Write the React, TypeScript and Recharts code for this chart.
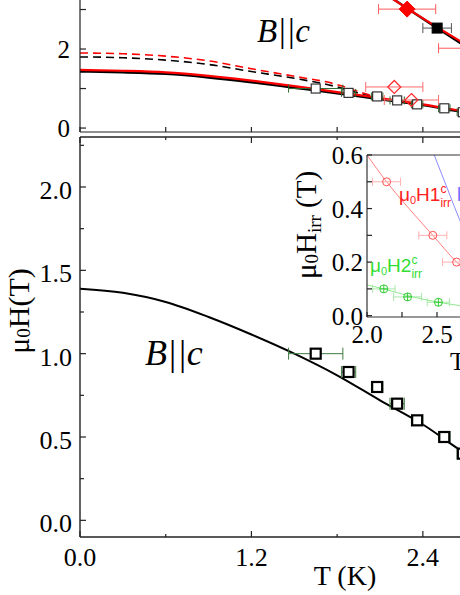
import React from 'react'
import { ComposedChart, Line, Scatter, XAxis, YAxis, ErrorBar } from 'recharts'

// ── Data ─────────────────────────────────────────────────────────────────────

// fit curves (T in K, H in T)
const FIT_T = [0, 0.3, 0.6, 0.9, 1.2, 1.5, 1.8, 2.1, 2.4, 2.7, 2.8]
const FIT_MAIN = [1.39, 1.365, 1.31, 1.22, 1.115, 1.0, 0.87, 0.72, 0.575, 0.4, 0.35]
const FIT_TOP_BLACK = [1.43, 1.41, 1.37, 1.28, 1.16, 1.02, 0.88, 0.73, 0.58, 0.4, 0.35]
const FIT_TOP_RED = [1.47, 1.45, 1.41, 1.32, 1.2, 1.06, 0.91, 0.76, 0.6, 0.42, 0.37]
const DASH_T = [0, 0.3, 0.6, 0.9, 1.2, 1.5, 1.8, 1.95, 2.1]
const DASH_RED = [1.9, 1.88, 1.82, 1.7, 1.5, 1.31, 1.1, 0.92, 0.76]
const DASH_BLACK = [1.8, 1.78, 1.72, 1.61, 1.43, 1.26, 1.04, 0.88, 0.73]

// open squares (both panels)
const SQ_T = [1.65, 1.88, 2.08, 2.22, 2.36, 2.55, 2.68]
const SQ_H = [1.0, 0.89, 0.8, 0.7, 0.6, 0.5, 0.4]
const SQ_ERR = [0.19, 0.05, 0.04, 0.05, 0.04, 0.04, 0.04]

// top panel extras
const DIA_T = [2.2, 2.32]
const DIA_H = [1.04, 0.71]
const DIA_ERR = [0.2, 0.19]
const HC2_RED_T = [2.0, 2.29, 2.8]
const HC2_RED_H = [3.72, 3.03, 1.9]
const HC2_BLACK_T = [2.0, 2.5, 2.8]
const HC2_BLACK_H = [3.73, 2.53, 1.83]
const RED_FILLED_T = [2.29, 2.76]
const RED_FILLED_H = [3.01, 2.02]
const RED_FILLED_ERR = [0.2, 0.25]
const BLACK_FILLED_T = [2.5]
const BLACK_FILLED_H = [2.53]
const BLACK_FILLED_ERR = [0.1]

// inset
const IN_RED_T = [2.14, 2.47, 2.64]
const IN_RED_H = [0.5, 0.3, 0.2]
const IN_RED_ERR = [0.1, 0.1, 0.1]
const IN_RED_FIT_T = [2.0, 2.14, 2.3, 2.47, 2.64, 2.7]
const IN_RED_FIT_H = [0.6, 0.5, 0.4, 0.3, 0.2, 0.17]
const IN_BLUE_T = [2.48, 2.57, 2.66, 2.7]
const IN_BLUE_H = [0.6, 0.48, 0.36, 0.31]
const IN_GREEN_T = [2.12, 2.29, 2.51]
const IN_GREEN_H = [0.1, 0.07, 0.05]
const IN_GREEN_ERR = [0.08, 0.1, 0.08]
const IN_GREEN_FIT_T = [2.0, 2.12, 2.29, 2.51, 2.7]
const IN_GREEN_FIT_H = [0.115, 0.1, 0.075, 0.05, 0.035]

// ticks
const MAIN_X_TICKS = [0, 0.6, 1.2, 1.8, 2.4]
const MAIN_X_LABELS = ['0.0', '', '1.2', '', '2.4']
const MAIN_Y_TICKS = [0, 0.25, 0.5, 0.75, 1, 1.25, 1.5, 1.75, 2, 2.25]
const MAIN_Y_LABELS = ['0.0', '', '0.5', '', '1.0', '', '1.5', '', '2.0', '']
const TOP_Y_TICKS = [0, 1, 2, 3]
const TOP_Y_LABELS = ['0', '', '2', '']
const IN_X_TICKS = [2.0, 2.25, 2.5]
const IN_X_LABELS = ['2.0', '', '2.5']
const IN_Y_TICKS = [0, 0.1, 0.2, 0.3, 0.4, 0.5, 0.6]
const IN_Y_LABELS = ['0.0', '', '0.2', '', '0.4', '', '0.6']

const pts = (t: number[], h: number[], e?: number[]) =>
  t.map((T, i) => ({ T, H: h[i], e: e ? e[i] : 0 }))

// ── Tick renderers (inward ticks) ────────────────────────────────────────────

const SERIF = 'Liberation Serif, Times New Roman, serif'
const SANS = 'Liberation Sans, Arial, sans-serif'

// axisX / axisY are in the chart's own svg coordinates
const yTick = (axisX: number, ticks: number[], labels: string[], fs: number, gap: number, dy: number, major: number, minor: number) =>
  (props: any) => {
    const { y, payload } = props
    const label = labels[ticks.indexOf(payload.value)]
    return (
      <g>
        <line x1={axisX} x2={axisX + (label ? major : minor)} y1={y} y2={y} stroke="#222" strokeWidth={1.2} />
        {label && (
          <text x={axisX - gap} y={y + dy} textAnchor="end" fontSize={fs} fontFamily={SERIF} fill="#000">{label}</text>
        )}
      </g>
    )
  }

const xTick = (axisY: number, dir: number, ticks: number[], labels: string[], fs: number, dy: number, major: number, minor: number) =>
  (props: any) => {
    const { x, payload } = props
    const label = labels[ticks.indexOf(payload.value)]
    return (
      <g>
        <line x1={x} x2={x} y1={axisY} y2={axisY + dir * (label ? major : minor)} stroke="#222" strokeWidth={1.2} />
        {label && fs > 0 && (
          <text x={x} y={axisY + dy} textAnchor="middle" fontSize={fs} fontFamily={SERIF} fill="#000">{label}</text>
        )}
      </g>
    )
  }

// ── Marker shapes ────────────────────────────────────────────────────────────

const square = (s: number, stroke: string, sw: number, fill: string) => (p: any) =>
  <rect x={p.cx - s / 2} y={p.cy - s / 2} width={s} height={s} fill={fill} stroke={stroke} strokeWidth={sw} />

const diamond = (r: number, stroke: string, sw: number, fill: string) => (p: any) =>
  <polygon points={`${p.cx},${p.cy - r} ${p.cx + r},${p.cy} ${p.cx},${p.cy + r} ${p.cx - r},${p.cy}`} fill={fill} stroke={stroke} strokeWidth={sw} />

const ring = (r: number, stroke: string) => (p: any) =>
  <circle cx={p.cx} cy={p.cy} r={r} fill="none" stroke={stroke} strokeWidth={1} />

const crossRing = (r: number, stroke: string) => (p: any) => (
  <g>
    <circle cx={p.cx} cy={p.cy} r={r} fill="none" stroke={stroke} strokeWidth={1} />
    <line x1={p.cx - r} x2={p.cx + r} y1={p.cy} y2={p.cy} stroke={stroke} strokeWidth={1} />
    <line x1={p.cx} x2={p.cx} y1={p.cy - r} y2={p.cy + r} stroke={stroke} strokeWidth={1} />
  </g>
)

// ── Panels ───────────────────────────────────────────────────────────────────

function TopPanel() {
  // plot: x 80..480 (T 0..2.8), y -30..132 (H 4.0..-0.1); div sits at top -40
  return (
    <div style={{ position: 'absolute', left: 0, top: -40 }}>
      <ComposedChart width={520} height={200} margin={{ top: 10, right: 40, bottom: 27, left: 79 }}>
        <XAxis dataKey="T" type="number" domain={[0, 2.8]} allowDataOverflow ticks={MAIN_X_TICKS} interval={0} height={1}
          axisLine={{ stroke: '#222', strokeWidth: 1.2 }} tickLine={false}
          tick={xTick(172, -1, MAIN_X_TICKS, MAIN_X_LABELS, 0, 0, 5, 5)} />
        <YAxis type="number" domain={[-0.1, 4]} allowDataOverflow ticks={TOP_Y_TICKS} interval={0} width={1}
          axisLine={{ stroke: '#222', strokeWidth: 1.2 }} tickLine={false}
          tick={yTick(80, TOP_Y_TICKS, TOP_Y_LABELS, 25, 10, 9, 6, 6)} />
        <Line data={pts(DASH_T, DASH_RED)} dataKey="H" type="monotone" stroke="#ff0000" strokeWidth={1.6} strokeDasharray="8 5" dot={false} isAnimationActive={false} />
        <Line data={pts(DASH_T, DASH_BLACK)} dataKey="H" type="monotone" stroke="#000" strokeWidth={1.6} strokeDasharray="8 5" dot={false} isAnimationActive={false} />
        <Line data={pts(FIT_T, FIT_TOP_BLACK)} dataKey="H" type="monotone" stroke="#000" strokeWidth={2.4} dot={false} isAnimationActive={false} />
        <Line data={pts(FIT_T, FIT_TOP_RED)} dataKey="H" type="monotone" stroke="#ff0000" strokeWidth={2.2} dot={false} isAnimationActive={false} />
        <Line data={pts(HC2_BLACK_T, HC2_BLACK_H)} dataKey="H" type="monotone" stroke="#000" strokeWidth={2.4} dot={false} isAnimationActive={false} />
        <Line data={pts(HC2_RED_T, HC2_RED_H)} dataKey="H" type="monotone" stroke="#ff0000" strokeWidth={2.2} dot={false} isAnimationActive={false} />
        <Scatter data={pts(SQ_T, SQ_H, SQ_ERR)} dataKey="H" shape={square(9, '#333', 1.2, '#fff')} isAnimationActive={false}>
          <ErrorBar dataKey="e" direction="x" width={4} stroke="#2d6a2d" strokeWidth={1} />
        </Scatter>
        <Scatter data={pts(DIA_T, DIA_H, DIA_ERR)} dataKey="H" shape={diamond(6.5, '#ff2a2a', 1.2, 'none')} isAnimationActive={false}>
          <ErrorBar dataKey="e" direction="x" width={5} stroke="#ff6b6b" strokeWidth={1} />
        </Scatter>
        <Scatter data={pts(BLACK_FILLED_T, BLACK_FILLED_H, BLACK_FILLED_ERR)} dataKey="H" shape={square(10, '#000', 1, '#000')} isAnimationActive={false}>
          <ErrorBar dataKey="e" direction="x" width={5} stroke="#555" strokeWidth={1} />
        </Scatter>
        <Scatter data={pts(RED_FILLED_T, RED_FILLED_H, RED_FILLED_ERR)} dataKey="H" shape={diamond(8, '#ff0000', 1, '#ff0000')} isAnimationActive={false}>
          <ErrorBar dataKey="e" direction="x" width={5} stroke="#ff5a5a" strokeWidth={1} />
        </Scatter>
      </ComposedChart>
    </div>
  )
}

function MainPanel() {
  // plot: x 80..480 (T 0..2.8), y 137..537 (H 2.3..-0.1)
  return (
    <div style={{ position: 'absolute', left: 0, top: 0 }}>
      <ComposedChart width={520} height={595} margin={{ top: 136, right: 40, bottom: 57, left: 79 }}>
        <XAxis dataKey="T" type="number" domain={[0, 2.8]} allowDataOverflow ticks={MAIN_X_TICKS} interval={0} height={1}
          axisLine={{ stroke: '#222', strokeWidth: 1.4 }} tickLine={false}
          tick={xTick(537, -1, MAIN_X_TICKS, MAIN_X_LABELS, 26, 29, 6, 3)} />
        <XAxis xAxisId="top" orientation="top" dataKey="T" type="number" domain={[0, 2.8]} allowDataOverflow ticks={MAIN_X_TICKS} interval={0} height={1}
          axisLine={{ stroke: '#222', strokeWidth: 1.4 }} tickLine={false}
          tick={xTick(137, 1, MAIN_X_TICKS, MAIN_X_LABELS, 0, 0, 6, 3)} />
        <YAxis type="number" domain={[-0.1, 2.3]} allowDataOverflow ticks={MAIN_Y_TICKS} interval={0} width={1}
          axisLine={{ stroke: '#222', strokeWidth: 1.4 }} tickLine={false}
          tick={yTick(80, MAIN_Y_TICKS, MAIN_Y_LABELS, 26, 8, 12, 6, 4)} />
        <Line data={pts(FIT_T, FIT_MAIN)} dataKey="H" type="monotone" stroke="#000" strokeWidth={2} dot={false} isAnimationActive={false} />
        <Scatter data={pts(SQ_T, SQ_H, SQ_ERR)} dataKey="H" shape={square(10, '#000', 2.2, '#fff')} isAnimationActive={false}>
          <ErrorBar dataKey="e" direction="x" width={6} stroke="#3f7a3f" strokeWidth={1} />
        </Scatter>
      </ComposedChart>
    </div>
  )
}

function Inset() {
  // plot (page coords): x 367..465 (T 2.0..2.7), y 155..317 (H 0.6..-0.005)
  // chart svg sits at (300, 120), so the axis is at x 67 / y 197 locally
  return (
    <>
      <div style={{ position: 'absolute', left: 367, top: 155, width: 100, height: 162, background: '#fff' }} />
      <div style={{ position: 'absolute', left: 300, top: 120 }}>
        <ComposedChart width={200} height={260} margin={{ top: 34, right: 35, bottom: 62, left: 66 }}>
          <XAxis dataKey="T" type="number" domain={[2.0, 2.7]} allowDataOverflow ticks={IN_X_TICKS} interval={0} height={1}
            axisLine={{ stroke: '#333', strokeWidth: 1.2 }} tickLine={false}
            tick={xTick(197, -1, IN_X_TICKS, IN_X_LABELS, 25, 26, 5, 5)} />
          <XAxis xAxisId="top" orientation="top" dataKey="T" type="number" domain={[2.0, 2.7]} allowDataOverflow ticks={IN_X_TICKS} height={1}
            axisLine={{ stroke: '#333', strokeWidth: 1.2 }} tickLine={false} tick={false} />
          <YAxis type="number" domain={[-0.005, 0.6]} allowDataOverflow ticks={IN_Y_TICKS} interval={0} width={1}
            axisLine={{ stroke: '#333', strokeWidth: 1.2 }} tickLine={false}
            tick={yTick(67, IN_Y_TICKS, IN_Y_LABELS, 25, 4, 9, 5, 5)} />
          <Line data={pts(IN_RED_FIT_T, IN_RED_FIT_H)} dataKey="H" type="monotone" stroke="#ff8080" strokeWidth={1} dot={false} isAnimationActive={false} />
          <Line data={pts(IN_BLUE_T, IN_BLUE_H)} dataKey="H" type="monotone" stroke="#8c8cff" strokeWidth={1} dot={false} isAnimationActive={false} />
          <Line data={pts(IN_GREEN_FIT_T, IN_GREEN_FIT_H)} dataKey="H" type="monotone" stroke="#8fe88f" strokeWidth={1} dot={false} isAnimationActive={false} />
          <Scatter data={pts(IN_RED_T, IN_RED_H, IN_RED_ERR)} dataKey="H" shape={ring(4, '#ff5050')} isAnimationActive={false}>
            <ErrorBar dataKey="e" direction="x" width={4} stroke="#ffb0b0" strokeWidth={1} />
          </Scatter>
          <Scatter data={pts(IN_GREEN_T, IN_GREEN_H, IN_GREEN_ERR)} dataKey="H" shape={crossRing(4, '#33cc33')} isAnimationActive={false}>
            <ErrorBar dataKey="e" direction="x" width={4} stroke="#a8e8a8" strokeWidth={1} />
          </Scatter>
        </ComposedChart>
      </div>
    </>
  )
}

function Labels() {
  return (
    <svg width={460} height={595} style={{ position: 'absolute', left: 0, top: 0, pointerEvents: 'none' }}>
      <text x={257} y={42} fontSize={33} fontFamily={SERIF} fontStyle="italic">B||c</text>
      <text x={145} y={365} fontSize={36} fontFamily={SERIF} fontStyle="italic">B||c</text>
      <text transform="translate(29, 311) rotate(-90)" textAnchor="middle" fontSize={30} fontFamily={SERIF}>
        μ<tspan fontSize={19} dy={1}>0</tspan><tspan dy={-1}>H(T)</tspan>
      </text>
      <text x={345} y={585} textAnchor="middle" fontSize={28} fontFamily={SERIF}>T (K)</text>
      <text transform="translate(316, 225) rotate(-90)" textAnchor="middle" fontSize={29} fontFamily={SERIF}>
        μ<tspan fontSize={19} dy={2}>0</tspan><tspan dy={-2}>H</tspan><tspan fontSize={19} dy={5}>irr</tspan><tspan dy={-5}> (T)</tspan>
      </text>
      <text x={450} y={370} fontSize={25} fontFamily={SERIF}>T (K)</text>
      <text x={399} y={201} fontSize={19} fontFamily={SANS} fill="#ff2020">
        μ<tspan fontSize={11} dy={3}>0</tspan><tspan dy={-3}>H1</tspan><tspan fontSize={12} dy={-8}>c</tspan><tspan fontSize={12} dx={-6} dy={14}>irr</tspan>
      </text>
      <text x={370} y={272} fontSize={19} fontFamily={SANS} fill="#33dd33">
        μ<tspan fontSize={11} dy={3}>0</tspan><tspan dy={-3}>H2</tspan><tspan fontSize={12} dy={-8}>c</tspan><tspan fontSize={12} dx={-6} dy={14}>irr</tspan>
      </text>
      <text x={457} y={197} fontSize={19} fontFamily={SANS} fill="#7070ff">μ</text>
    </svg>
  )
}

export default function App() {
  return (
    <div style={{ position: 'absolute', left: 0, top: 0, width: 460, height: 595, overflow: 'hidden', background: '#fff' }}>
      <TopPanel />
      <MainPanel />
      <Inset />
      <Labels />
    </div>
  )
}
